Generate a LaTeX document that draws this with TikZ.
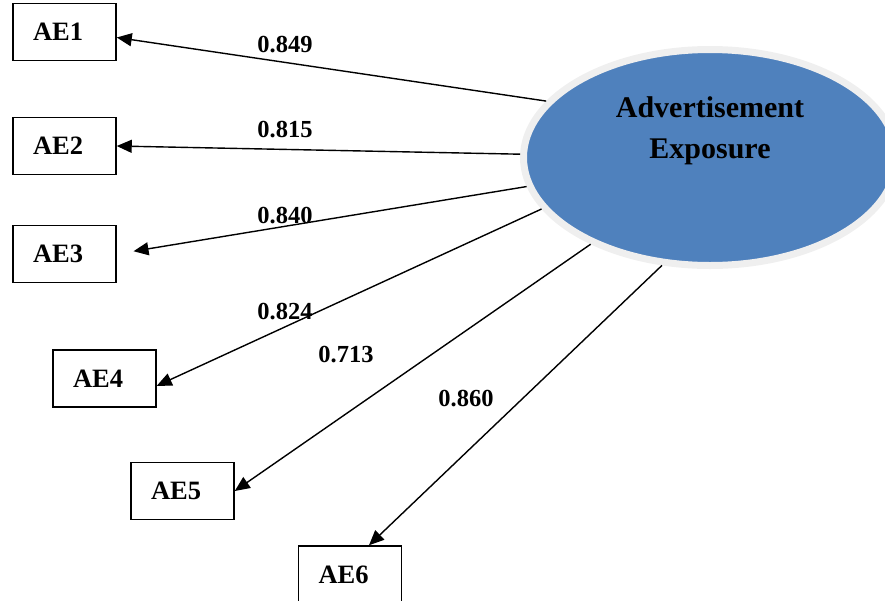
\documentclass[tikz,border=0pt]{standalone}
\usepackage{fontspec}
\setmainfont{Liberation Serif}
\usetikzlibrary{shapes.geometric,arrows.meta}
\definecolor{latentblue}{HTML}{4F81BD}
\definecolor{ringgray}{HTML}{EFEFEF}
\begin{document}
\begin{tikzpicture}[x=1pt,y=-1pt,
  indicator/.style={draw, line width=1.5pt, minimum width=103pt, minimum height=57pt,
    inner ysep=0pt, inner xsep=20pt, text width=63pt, align=left,
    font=\fontsize{26.5}{30}\selectfont\bfseries},
  latent/.style={ellipse, draw=ringgray, line width=7pt, fill=latentblue,
    minimum width=373pt, minimum height=216pt, inner sep=0pt},
  latentlabel/.style={align=center, inner sep=0pt, font=\fontsize{30}{41}\selectfont\bfseries},
  loading/.style={inner sep=0pt, font=\fontsize{24.5}{28}\selectfont\bfseries},
  loadarrow/.style={line width=1.4pt, -{Triangle[length=15pt,width=13pt]}}
]
\useasboundingbox (0,0) rectangle (885,600);

% latent construct
\node[latent] (E) at (710,157.5) {};
\node[latentlabel] (Elabel) at (710,130.5) {Advertisement\\Exposure};

% indicators
\node[indicator] (AE1) at (64.5,32)    {AE1};
\node[indicator] (AE2) at (64.5,146)   {AE2};
\node[indicator] (AE3) at (64.5,254)   {AE3};
\node[indicator] (AE4) at (104.5,378.5){AE4};
\node[indicator] (AE5) at (182.5,491)  {AE5};
\node[indicator] (AE6) at (350,574.5)  {AE6};

% loadings
\draw[loadarrow] (E.161) -- (AE1.-6);
\draw[loadarrow] (E.179.7) -- (AE2.east);
\draw[loadarrow, shorten >=17pt] (E.189) -- (AE3.east);
\draw[loadarrow] (E.197.6) -- (AE4.-8);
\draw[loadarrow] (E.216.4) -- (AE5.east);
\draw[loadarrow] (E.246.5) -- (AE6.57);

% loading values
\node[loading] (l1) at (285,45)  {0.849};
\node[loading] (l2) at (285,130) {0.815};
\node[loading] (l3) at (285,216) {0.840};
\node[loading] (l4) at (285,312) {0.824};
\node[loading] (l5) at (346,355) {0.713};
\node[loading] (l6) at (466,399) {0.860};
\end{tikzpicture}
\end{document}
